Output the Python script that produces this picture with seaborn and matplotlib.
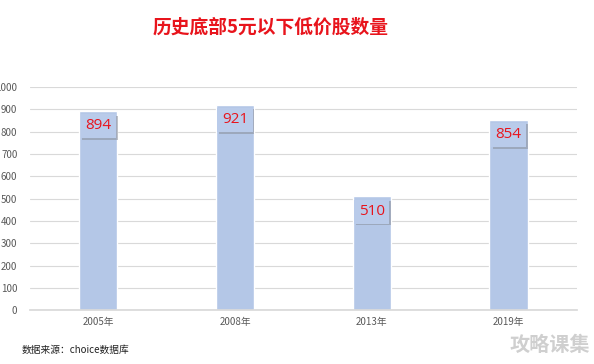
import matplotlib
matplotlib.use("Agg")
import matplotlib.pyplot as plt
import matplotlib.patheffects as pe
import seaborn as sns
import pandas as pd

# chart data
years = ["2005年", "2008年", "2013年", "2019年"]
counts = [894, 921, 510, 854]
y_ticks = [0, 100, 200, 300, 400, 500, 600, 700, 800, 900, 1000]

TITLE = "历史底部5元以下低价股数量"
SOURCE = "数据来源：choice数据库"
WATERMARK = "攻略课集"

BAR_COLOR = "#b4c7e7"
RED = "#e8141c"

sns.set_theme(style="white")
plt.rcParams["font.family"] = ["Noto Sans CJK SC", "DejaVu Sans"]

df = pd.DataFrame({"year": years, "count": counts})

fig = plt.figure(figsize=(5.94, 3.64), dpi=100)
ax = fig.add_axes([0.0505, 0.148, 0.9205, 0.613])

sns.barplot(data=df, x="year", y="count", color=BAR_COLOR, width=0.28,
            saturation=1, ax=ax)

ax.set_xlim(-0.5, len(years) - 0.5)
ax.set_ylim(0, 1000)
ax.set_yticks(y_ticks)
ax.set_yticklabels([str(v) for v in y_ticks])
ax.yaxis.grid(True, color="#d9d9d9", lw=0.8)
ax.set_axisbelow(True)
ax.set_xlabel("")
ax.set_ylabel("")
for s in ["top", "right", "left"]:
    ax.spines[s].set_visible(False)
ax.spines["bottom"].set_color("#d9d9d9")
ax.tick_params(axis="y", labelsize=7, colors="#595959", length=0, pad=9)
ax.tick_params(axis="x", labelsize=7, colors="#595959", length=0, pad=5)

# value labels in shadowed boxes
for i, v in enumerate(counts):
    t = ax.annotate(str(v), (i, v), xytext=(0, -11), textcoords="offset points",
                    ha="center", va="center", fontsize=11, color=RED,
                    family=["Open Sans", "DejaVu Sans"],
                    bbox=dict(boxstyle="square,pad=0.3", fc="#b9cbea", ec="none"))
    t.get_bbox_patch().set_path_effects([
        pe.withSimplePatchShadow(offset=(1.2, -1.2), shadow_rgbFace="#8a8f99", alpha=0.55),
        pe.Normal(),
    ])

fig.text(0.455, 0.925, TITLE, ha="center", va="center", fontsize=13.5,
         color=RED, fontweight="bold")
fig.text(0.037, 0.038, SOURCE, ha="left", va="center", fontsize=7, color="#222222")
fig.text(0.993, 0.055, WATERMARK, ha="right", va="center", fontsize=14.5,
         color="#cfcfcf", fontweight="bold")

fig.savefig("out.png", dpi=100)
